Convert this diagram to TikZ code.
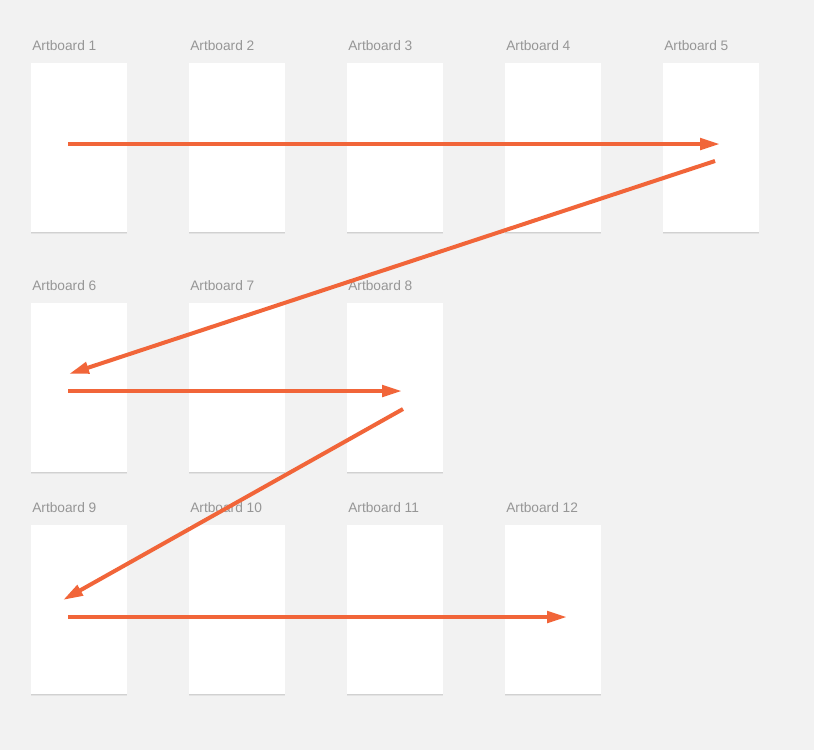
\documentclass[tikz,border=0pt]{standalone}
\usepackage{fontspec}
\setmainfont{Liberation Sans}
\usetikzlibrary{arrows.meta,shadows}
\definecolor{canvas}{RGB}{242,242,242}
\definecolor{flow}{RGB}{241,101,57}
\definecolor{caption}{RGB}{150,150,150}

\tikzset{
  board/.style={fill=white,draw=none,inner sep=0pt,minimum width=72pt,minimum height=126.75pt,
    general shadow={shadow xshift=0pt,shadow yshift=-1.2pt,opacity=0.06,fill=black,shadow scale=1.01},
    general shadow={shadow xshift=0pt,shadow yshift=-0.6pt,opacity=0.08,fill=black}},
  boardname/.style={font=\fontsize{10.3pt}{12pt}\selectfont,text=caption,anchor=west,inner sep=0pt},
  flowline/.style={flow,line width=3pt,-{Triangle[length=15pt,width=8.5pt]}}
}

\begin{document}
\begin{tikzpicture}[x=0.75pt,y=-0.75pt]
  \fill[canvas] (0,0) rectangle (814,750);
  \useasboundingbox (0,0) rectangle (814,750);
  % the artboards, row by row: number/left edge/top edge
  \foreach \n/\x/\y in {
      1/31/63, 2/189/63, 3/347/63, 4/505/63, 5/663/63,
      6/31/303, 7/189/303, 8/347/303,
      9/31/525, 10/189/525, 11/347/525, 12/505/525}{
    \node[board] (ab\n) at (\x+48,\y+84.5) {};
    \node[boardname] (name\n) at (\x+1,\y-17) {Artboard \n};
  }
  % ends of the flow arrows
  \coordinate (go1) at (68,144);   \coordinate (to1) at (720,144);
  \coordinate (go2) at (715,161);  \coordinate (to2) at (69,374);
  \coordinate (go3) at (68,391);   \coordinate (to3) at (402,391);
  \coordinate (go4) at (403,409);  \coordinate (to4) at (63,600);
  \coordinate (go5) at (68,617);   \coordinate (to5) at (567,617);
  \foreach \k in {1,...,5}
    \draw[flowline] (go\k) -- (to\k);
\end{tikzpicture}
\end{document}
